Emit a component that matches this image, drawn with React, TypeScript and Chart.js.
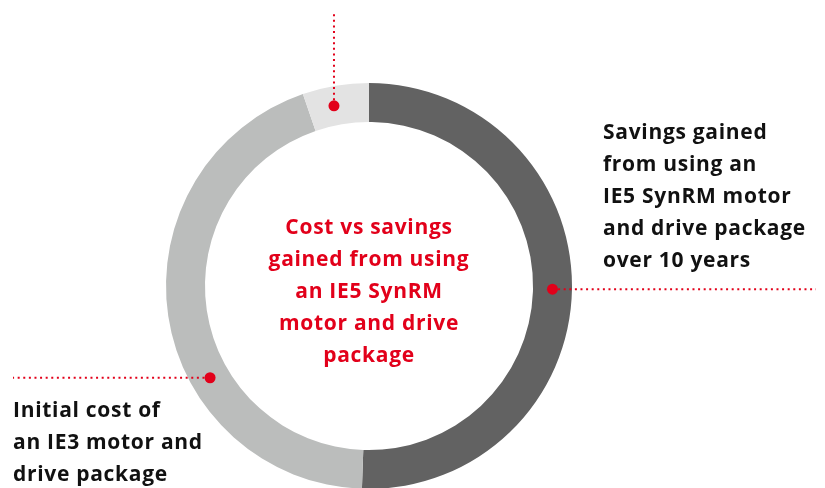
import React, { useEffect, useRef } from "react";
import { Chart, registerables } from "chart.js";

Chart.register(...registerables);

// Segment sizes in degrees of the ring (clockwise from top)
const categories = [
  "Savings gained from using an IE5 SynRM motor and drive package over 10 years",
  "Initial cost of an IE3 motor and drive package",
  "Other",
];
const values = [182, 159, 19];
const colors = ["#626262", "#BBBDBC", "#E3E3E3"];

const centerLines = ["Cost vs savings", "gained from using", "an IE5 SynRM", "motor and drive", "package"];
const rightLines = ["Savings gained", "from using an", "IE5 SynRM motor", "and drive package", "over 10 years"];
const leftLines = ["Initial cost of", "an IE3 motor and", "drive package"];

const RED = "#E2001A";
const FONT = "bold 21px 'Open Sans', sans-serif";

const annotPlugin = {
  id: "annot",
  afterDraw(chart: any) {
    const ctx = chart.ctx as CanvasRenderingContext2D;
    const meta = chart.getDatasetMeta(0);
    const arc = meta.data[0] as any;
    const cx = arc.x;
    const cy = arc.y;
    const midR = (arc.outerRadius + arc.innerRadius) / 2;
    // angles measured clockwise from top, in degrees
    const pt = (deg: number) => {
      const a = ((deg - 90) * Math.PI) / 180;
      return { x: cx + midR * Math.cos(a), y: cy + midR * Math.sin(a) };
    };
    const pRight = pt(91);
    const pLeft = pt(240);
    const pTop = pt(349);

    ctx.save();
    ctx.strokeStyle = RED;
    ctx.lineWidth = 2;
    ctx.setLineDash([2, 3.6]);
    ctx.beginPath();
    ctx.moveTo(pRight.x, pRight.y);
    ctx.lineTo(816, pRight.y);
    ctx.moveTo(pLeft.x, pLeft.y);
    ctx.lineTo(13, pLeft.y);
    ctx.moveTo(pTop.x, pTop.y);
    ctx.lineTo(pTop.x, 13);
    ctx.stroke();
    ctx.setLineDash([]);
    ctx.fillStyle = RED;
    for (const p of [pRight, pLeft, pTop]) {
      ctx.beginPath();
      ctx.arc(p.x, p.y, 5.5, 0, Math.PI * 2);
      ctx.fill();
    }

    ctx.font = FONT;
    (ctx as any).letterSpacing = "0.7px";
    ctx.textBaseline = "middle";
    const lh = 32;
    // center text
    ctx.fillStyle = RED;
    ctx.textAlign = "center";
    centerLines.forEach((l, i) => {
      ctx.fillText(l, cx, cy + 6 + (i - 2) * lh);
    });
    // right label
    ctx.fillStyle = "#111111";
    ctx.textAlign = "left";
    rightLines.forEach((l, i) => {
      ctx.fillText(l, 603, 133 + i * lh);
    });
    leftLines.forEach((l, i) => {
      ctx.fillText(l, 13, 411 + i * lh);
    });
    ctx.restore();
  },
};

export default function App() {
  const ref = useRef<HTMLCanvasElement>(null);
  useEffect(() => {
    document.body.style.margin = "0";
    const chart = new Chart(ref.current!, {
      type: "doughnut",
      data: {
        labels: categories,
        datasets: [
          {
            data: values,
            backgroundColor: colors,
            borderWidth: 0,
            hoverOffset: 0,
          },
        ],
      },
      options: {
        responsive: false,
        animation: false,
        cutout: "80.8%",
        layout: { padding: { left: 166, right: 253, top: 83, bottom: 11 } },
        plugins: { legend: { display: false }, tooltip: { enabled: false } },
      },
      plugins: [annotPlugin],
    });
    return () => chart.destroy();
  }, []);
  return (
    <div style={{ width: 825, height: 488, overflow: "hidden", background: "#fff" }}>
      <canvas ref={ref} width={825} height={500} />
    </div>
  );
}
